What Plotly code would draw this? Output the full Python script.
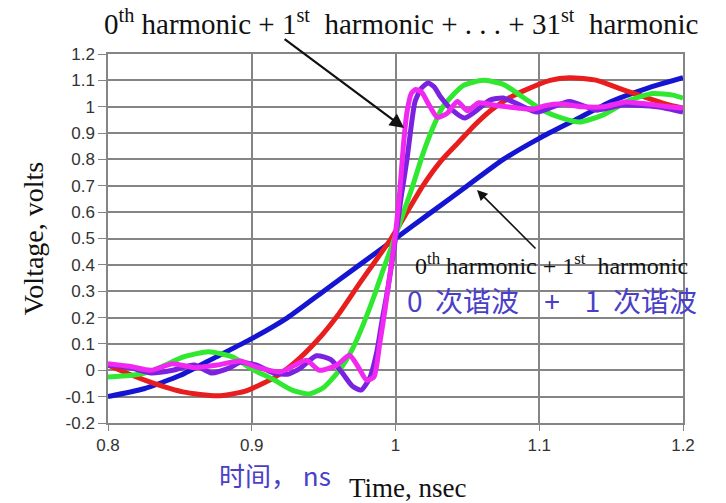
import plotly.graph_objects as go

# Partial Fourier sums of a 1 ns square-wave edge, sampled around the rising transition
t_blue = [0.800, 0.825, 0.850, 0.875, 0.900, 0.925, 0.950, 0.975, 1.000, 1.025, 1.050,
          1.075, 1.100, 1.125, 1.150, 1.175, 1.200]
v_blue = [-0.10, -0.07, -0.02, 0.05, 0.12, 0.20, 0.30, 0.40, 0.50, 0.60, 0.70,
          0.80, 0.88, 0.95, 1.02, 1.07, 1.11]

t_red = [0.800, 0.815, 0.829, 0.852, 0.876, 0.895, 0.915, 0.930, 0.945, 0.960, 0.975,
         0.988, 0.997, 1.008, 1.019, 1.031, 1.043, 1.055, 1.066, 1.078, 1.089, 1.1075,
         1.121, 1.140, 1.158, 1.177, 1.191, 1.200]
v_red = [0.02, -0.015, -0.044, -0.082, -0.097, -0.08, -0.03, 0.03, 0.11, 0.21, 0.33,
         0.43, 0.50, 0.60, 0.70, 0.79, 0.86, 0.93, 0.985, 1.03, 1.06, 1.10,
         1.11, 1.10, 1.065, 1.03, 1.006, 0.995]

t_green = [0.800, 0.815, 0.829, 0.840, 0.852, 0.870, 0.887, 0.900, 0.915, 0.928, 0.940,
           0.950, 0.961, 0.970, 0.978, 0.985, 0.992, 0.998, 1.005, 1.012, 1.019, 1.026,
           1.033, 1.047, 1.061, 1.075, 1.089, 1.103, 1.117, 1.128, 1.144, 1.163, 1.179,
           1.193, 1.200]
v_green = [-0.025, -0.02, -0.006, 0.02, 0.05, 0.07, 0.05, 0.005, -0.035, -0.075, -0.09,
           -0.065, 0.0, 0.08, 0.18, 0.28, 0.39, 0.48, 0.59, 0.70, 0.82, 0.92,
           1.00, 1.08, 1.10, 1.085, 1.035, 0.985, 0.955, 0.942, 0.968, 1.025, 1.05,
           1.044, 1.033]

t_purple = [0.800, 0.815, 0.830, 0.845, 0.860, 0.872, 0.885, 0.892, 0.903, 0.915, 0.925,
            0.933, 0.945, 0.955, 0.963, 0.970, 0.976, 0.982, 0.987, 0.991, 0.995, 1.000,
            1.004, 1.008, 1.011, 1.0136, 1.018, 1.0226, 1.027, 1.031, 1.040, 1.048,
            1.0567, 1.0657, 1.0748, 1.0866, 1.0984, 1.121, 1.140, 1.158, 1.182, 1.200]
v_purple = [0.02, 0.01, -0.01, 0.00, 0.02, -0.01, 0.01, 0.03, 0.02, -0.01, -0.015,
            0.005, 0.055, 0.04, -0.01, -0.06, -0.075, -0.03, 0.07, 0.20, 0.32, 0.50,
            0.66, 0.80, 0.93, 1.02, 1.07, 1.09, 1.075, 1.04, 0.985, 0.957,
            0.987, 1.025, 1.033, 1.006, 0.98, 1.02, 0.987, 1.006, 1.0, 0.98]

t_magenta = [0.800, 0.815, 0.830, 0.845, 0.860, 0.876, 0.892, 0.903, 0.920, 0.938, 0.947,
             0.959, 0.968, 0.974, 0.980, 0.985, 0.989, 0.9927, 0.9965, 1.000, 1.003,
             1.0056, 1.008, 1.011, 1.014, 1.018, 1.023, 1.029, 1.036, 1.043, 1.050,
             1.058, 1.070, 1.085, 1.095, 1.105, 1.115, 1.130, 1.145, 1.160, 1.175,
             1.190, 1.200]
v_magenta = [0.025, 0.015, 0.0, 0.025, 0.01, 0.02, 0.035, 0.013, -0.006, 0.038, 0.0,
             0.019, 0.057, 0.013, -0.038, -0.025, 0.10, 0.23, 0.38, 0.52, 0.68,
             0.86, 0.98, 1.05, 1.065, 1.056, 1.01, 0.96, 0.975, 1.02, 0.985,
             1.015, 1.005, 0.995, 0.99, 1.005, 1.01, 1.0, 1.0, 1.018, 1.01,
             1.0, 0.995]

x_ticks = [0.8, 0.9, 1.0, 1.1, 1.2]
x_tick_text = ["0.8", "0.9", "1", "1.1", "1.2"]
y_ticks = [-0.2, -0.1, 0.0, 0.1, 0.2, 0.3, 0.4, 0.5, 0.6, 0.7, 0.8, 0.9, 1.0, 1.1, 1.2]
y_tick_text = ["-0.2", "-0.1", "0", "0.1", "0.2", "0.3", "0.4", "0.5", "0.6", "0.7",
               "0.8", "0.9", "1", "1.1", "1.2"]

series = [
    (t_blue, v_blue, "#1414d2"),
    (t_red, v_red, "#e81e1e"),
    (t_green, v_green, "#30e830"),
    (t_purple, v_purple, "#7a22e0"),
    (t_magenta, v_magenta, "#f028f0"),
]

SERIF = "Liberation Serif, Times New Roman, serif"
SANS = "Liberation Sans, Arial, sans-serif"
CJK = "Noto Sans CJK SC, sans-serif"
GRID = "#858585"
SP = "&nbsp;"

fig = go.Figure()
for t, v, c in series:
    fig.add_trace(go.Scatter(
        x=t, y=v, mode="lines",
        line=dict(color=c, width=5, shape="spline", smoothing=0.6),
        showlegend=False, hoverinfo="skip",
    ))

fig.update_layout(
    width=726, height=503,
    margin=dict(l=108, r=43, t=54, b=80),
    paper_bgcolor="white", plot_bgcolor="white",
    xaxis=dict(
        range=[0.8, 1.2], tickvals=x_ticks, ticktext=x_tick_text,
        showgrid=True, gridcolor=GRID, gridwidth=1.5,
        showline=True, linecolor=GRID, linewidth=1.5, mirror=True,
        ticks="outside", ticklen=6, tickcolor=GRID,
        tickfont=dict(family=SANS, size=17, color="#333333"),
        zeroline=False,
    ),
    yaxis=dict(
        range=[-0.2, 1.2], tickvals=y_ticks, ticktext=y_tick_text,
        showgrid=True, gridcolor=GRID, gridwidth=1.5,
        showline=True, linecolor=GRID, linewidth=1.5, mirror=True,
        ticks="outside", ticklen=8, tickcolor=GRID,
        tickfont=dict(family=SANS, size=17, color="#333333"),
        zeroline=False,
        title=dict(text="Voltage, volts", font=dict(family=SERIF, size=28, color="#111111"),
                   standoff=14),
    ),
)

annotations = [
    # header label with arrow to the 31-harmonic edge
    dict(xref="paper", yref="paper", x=(401 - 108) / 575, y=1 + (54 - 22) / 369,
         text="0<sup>th</sup> harmonic + 1<sup>st</sup>  harmonic + . . . + 31<sup>st</sup>  harmonic",
         showarrow=False, font=dict(family=SERIF, size=29, color="#111111"),
         xanchor="center", yanchor="middle"),
    dict(x=1.006, y=0.919, xref="x", yref="y", text="", showarrow=True,
         ax=-121, ay=-90, arrowhead=2, arrowsize=1.3, arrowwidth=2.2, arrowcolor="#111111"),
    # first-harmonic label with arrow to the blue curve
    dict(xref="paper", yref="paper", x=(413 - 108) / 575, y=(423 - 264) / 369,
         text="0<sup>th</sup> harmonic + 1<sup>st</sup>  harmonic",
         showarrow=False, font=dict(family=SERIF, size=24, color="#111111"),
         xanchor="left", yanchor="middle"),
    dict(xref="paper", yref="paper", x=(405 - 108) / 575, y=(423 - 300) / 369,
         text="0" + SP * 2 + "次谐波" + SP * 4 + "+" + SP * 4 + "1" + SP * 2 + "次谐波",
         showarrow=False, font=dict(family=CJK, size=28, color="#4a40c8"),
         xanchor="left", yanchor="middle"),
    dict(x=1.0567, y=0.684, xref="x", yref="y", text="", showarrow=True,
         ax=60, ay=60, arrowhead=2, arrowsize=1.3, arrowwidth=1.6, arrowcolor="#111111"),
    # x-axis titles
    dict(xref="paper", yref="paper", x=(217 - 108) / 575, y=-(474 - 423) / 369,
         text="时间，" + SP + "ns", showarrow=False,
         font=dict(family=CJK, size=26, color="#4a40c8"),
         xanchor="left", yanchor="middle"),
    dict(xref="paper", yref="paper", x=(408 - 108) / 575, y=-(488 - 423) / 369,
         text="Time, nsec", showarrow=False,
         font=dict(family=SERIF, size=27, color="#111111"),
         xanchor="center", yanchor="middle"),
]
fig.update_layout(annotations=annotations)

fig.write_html("out.html")
